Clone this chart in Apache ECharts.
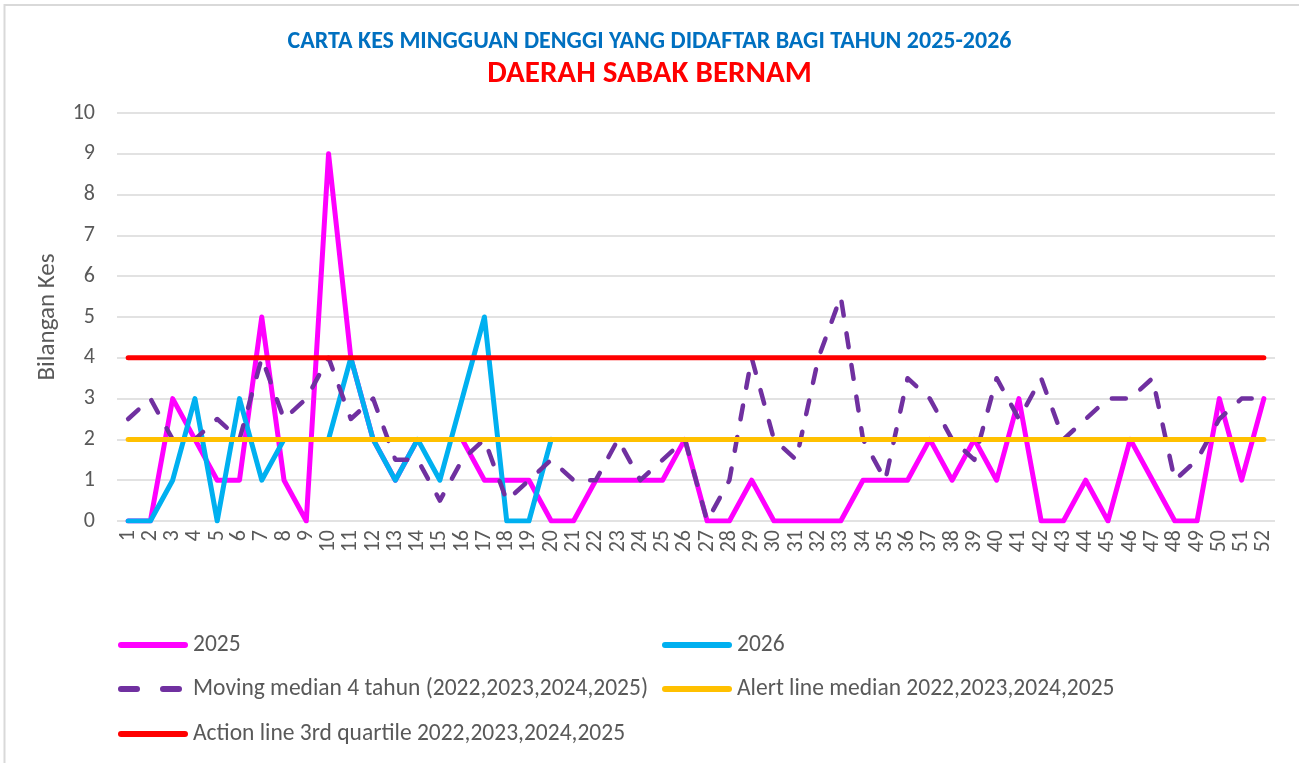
<!DOCTYPE html>
<html>
<head>
<meta charset="utf-8">
<script src="https://cdn.jsdelivr.net/npm/echarts@6/dist/echarts.min.js"></script>
<style>
html,body{margin:0;padding:0;background:#fff;}
#chart{width:1299px;height:763px;}
</style>
</head>
<body>
<div id="chart"></div>
<script>
const weeks = ['1','2','3','4','5','6','7','8','9','10','11','12','13','14','15','16','17','18','19','20','21','22','23','24','25','26','27','28','29','30','31','32','33','34','35','36','37','38','39','40','41','42','43','44','45','46','47','48','49','50','51','52'];
const cases2025 = [0,0,3,2,1,1,5,1,0,9,4,2,1,2,2,2,1,1,1,0,0,1,1,1,1,2,0,0,1,0,0,0,0,1,1,1,2,1,2,1,3,0,0,1,0,2,1,0,0,3,1,3];
const cases2026 = [0,0,1,3,0,3,1,2,2,2,4,2,1,2,1,3,5,0,0,2];
const movingMedian = [2.5,3,2,2,2.5,2,4,2.5,3,4,2.5,3,1.5,1.5,0.5,1.5,2,0.5,1,1.5,1,1,2,1,1.5,2,0,1,4,2,1.5,4,5.5,2,1,3.5,3,2,1.5,3.5,2.5,3.5,2,2.5,3,3,3.5,1,1.5,2.5,3,3];
const alertLine = [2,2,2,2,2,2,2,2,2,2,2,2,2,2,2,2,2,2,2,2,2,2,2,2,2,2,2,2,2,2,2,2,2,2,2,2,2,2,2,2,2,2,2,2,2,2,2,2,2,2,2,2];
const actionLine = [4,4,4,4,4,4,4,4,4,4,4,4,4,4,4,4,4,4,4,4,4,4,4,4,4,4,4,4,4,4,4,4,4,4,4,4,4,4,4,4,4,4,4,4,4,4,4,4,4,4,4,4];
const yTicks = [0,1,2,3,4,5,6,7,8,9,10];

const seriesNames = ['2025','2026','Moving median 4 tahun (2022,2023,2024,2025)','Alert line median 2022,2023,2024,2025','Action line 3rd quartile 2022,2023,2024,2025'];

const FONT = 'Carlito, Lato, sans-serif';
const GREY = '#595959';
const solidIcon = 'path://M3,0 H67 A3,3 0 0 1 67,6 H3 A3,3 0 0 1 3,0 Z';
const dashIcon = 'path://M3,0 H19 A3,3 0 0 1 19,6 H3 A3,3 0 0 1 3,0 Z M45,0 H61 A3,3 0 0 1 61,6 H45 A3,3 0 0 1 45,0 Z';

function legendAt(name, left, top, icon, w, extraPad) {
  return {
    data: [name], left: left, top: top, padding: 0,
    icon: icon, itemWidth: w, itemHeight: 6, selectedMode: false,
    textStyle: {fontFamily: FONT, fontSize: 23.5, color: GREY, padding: [0,0,0,extraPad||0]}
  };
}

const chart = echarts.init(document.getElementById('chart'), null, {renderer: 'canvas'});
chart.setOption({
  backgroundColor: '#ffffff',
  animation: false,
  graphic: [{
    type: 'rect', z: -10, silent: true,
    shape: {x: 4.5, y: 5, width: 1400, height: 900},
    style: {fill: 'none', stroke: '#d9d9d9', lineWidth: 2}
  }],
  title: [
    {text: 'CARTA KES MINGGUAN DENGGI YANG DIDAFTAR BAGI TAHUN 2025-2026', left: 'center', top: 30, padding: 0,
     textStyle: {fontFamily: FONT, fontSize: 24, fontWeight: 'bold', color: '#0070C0'}},
    {text: 'DAERAH SABAK BERNAM', left: 'center', top: 59, padding: 0,
     textStyle: {fontFamily: FONT, fontSize: 31, fontWeight: 'bold', color: '#FF0000'}}
  ],
  legend: [
    legendAt(seriesNames[0], 118, 633, solidIcon, 70),
    legendAt(seriesNames[1], 662, 633, solidIcon, 70),
    legendAt(seriesNames[2], 118, 677, dashIcon, 64, 6),
    legendAt(seriesNames[3], 662, 677, solidIcon, 70),
    legendAt(seriesNames[4], 118, 722, solidIcon, 70)
  ],
  grid: {left: 117, right: 24, top: 113, bottom: 242, containLabel: false},
  xAxis: {
    type: 'category', data: weeks, boundaryGap: true,
    axisLine: {show: false}, axisTick: {show: false},
    axisLabel: {interval: 0, rotate: 90, margin: 9, fontFamily: FONT, fontSize: 22, color: GREY}
  },
  yAxis: {
    type: 'value', min: yTicks[0], max: yTicks[yTicks.length-1], interval: 1,
    name: 'Bilangan Kes', nameLocation: 'middle', nameRotate: 90, nameGap: 57,
    nameTextStyle: {fontFamily: FONT, fontSize: 25, color: GREY},
    axisLine: {show: false}, axisTick: {show: false},
    axisLabel: {margin: 22, fontFamily: FONT, fontSize: 22, color: GREY},
    splitLine: {lineStyle: {color: '#d9d9d9', width: 1.5}}
  },
  series: [
    {name: seriesNames[0], type: 'line', data: cases2025, symbol: 'none', color: '#FF00FF',
     lineStyle: {width: 5, color: '#FF00FF', cap: 'round', join: 'round'}},
    {name: seriesNames[1], type: 'line', data: cases2026, symbol: 'none', color: '#00B0F0',
     lineStyle: {width: 5, color: '#00B0F0', cap: 'round', join: 'round'}},
    {name: seriesNames[2], type: 'line', data: movingMedian, symbol: 'none', color: '#7030A0',
     lineStyle: {width: 4.5, color: '#7030A0', type: [14, 18], cap: 'round', join: 'round'}},
    {name: seriesNames[3], type: 'line', data: alertLine, symbol: 'none', color: '#FFC000',
     lineStyle: {width: 5, color: '#FFC000', cap: 'round', join: 'round'}},
    {name: seriesNames[4], type: 'line', data: actionLine, symbol: 'none', color: '#FF0000',
     lineStyle: {width: 5, color: '#FF0000', cap: 'round', join: 'round'}}
  ]
});
</script>
</body>
</html>
